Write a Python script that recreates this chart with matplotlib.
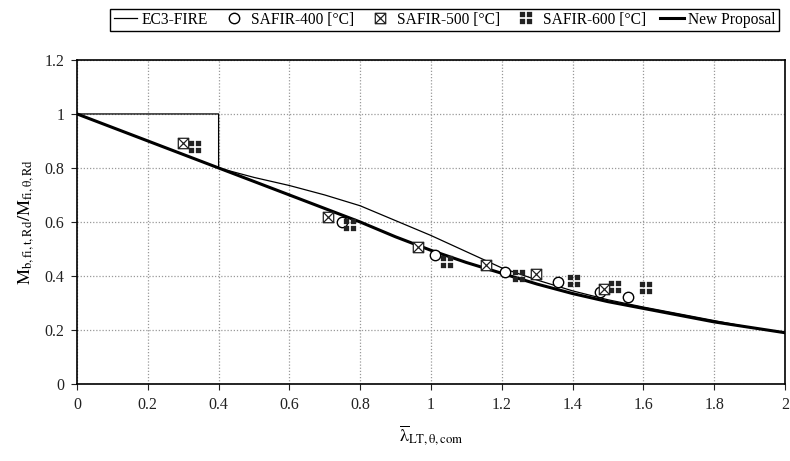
import matplotlib
matplotlib.use("Agg")
import matplotlib.pyplot as plt
from matplotlib.path import Path

plt.rcParams["font.family"] = ["Liberation Serif", "DejaVu Serif"]
plt.rcParams["mathtext.fontset"] = "stix"

# EC3-FIRE curve (thin line), incl. the plateau box up to 0.4
ec3_x = [0.0, 0.4, 0.4, 0.5, 0.6, 0.7, 0.8, 0.9, 1.0, 1.1, 1.2, 1.3, 1.4, 1.5, 1.6, 1.7, 1.8, 1.9, 2.0]
ec3_y = [1.0, 1.0, 0.8, 0.765, 0.735, 0.70, 0.66, 0.605, 0.55, 0.49, 0.43, 0.385, 0.345, 0.312, 0.285, 0.26, 0.235, 0.21, 0.19]

# New proposal (thick line)
new_x = [0.0, 0.2, 0.4, 0.5, 0.6, 0.7, 0.8, 0.9, 1.0, 1.1, 1.2, 1.3, 1.4, 1.5, 1.6, 1.7, 1.8, 1.9, 2.0]
new_y = [1.0, 0.9, 0.8, 0.75, 0.70, 0.65, 0.60, 0.545, 0.495, 0.45, 0.41, 0.37, 0.335, 0.305, 0.28, 0.255, 0.23, 0.21, 0.19]

# SAFIR results
s400_x = [0.748, 1.011, 1.209, 1.36, 1.477, 1.557]
s400_y = [0.601, 0.478, 0.416, 0.376, 0.342, 0.323]
s500_x = [0.30, 0.709, 0.964, 1.155, 1.296, 1.49]
s500_y = [0.893, 0.62, 0.508, 0.44, 0.407, 0.352]
s600_x = [0.333, 0.771, 1.044, 1.248, 1.405, 1.52, 1.607]
s600_y = [0.878, 0.589, 0.453, 0.40, 0.38, 0.36, 0.357]

# custom markers: square with cross, and four small filled squares
m500 = Path(
    [(-1, -1), (1, -1), (1, 1), (-1, 1), (-1, -1),
     (-1, -1), (1, 1), (-1, 1), (1, -1)],
    [Path.MOVETO, Path.LINETO, Path.LINETO, Path.LINETO, Path.CLOSEPOLY,
     Path.MOVETO, Path.LINETO, Path.MOVETO, Path.LINETO],
)
verts, codes = [], []
g = 0.12
for sx in (-1, 1):
    for sy in (-1, 1):
        x0, x1 = sorted((sx * g, sx * 1.0))
        y0, y1 = sorted((sy * g, sy * 1.0))
        verts += [(x0, y0), (x1, y0), (x1, y1), (x0, y1), (x0, y0)]
        codes += [Path.MOVETO, Path.LINETO, Path.LINETO, Path.LINETO, Path.CLOSEPOLY]
m600 = Path(verts, codes)

fig = plt.figure(figsize=(7.9, 4.61), dpi=100)
ax = fig.add_axes([0.0975, 0.167, 0.896, 0.703])

ax.plot(ec3_x, ec3_y, color="black", lw=0.9, label="EC3-FIRE", zorder=3)
ax.plot(s400_x, s400_y, ls="none", marker="o", ms=7.5, mfc="white", mec="black",
        mew=1.0, label="SAFIR-400 [°C]", zorder=4)
ax.plot(s500_x, s500_y, ls="none", marker=m500, ms=7.5, mfc="white", mec="#222222",
        mew=0.9, label="SAFIR-500 [°C]", zorder=4)
ax.plot(s600_x, s600_y, ls="none", marker=m600, ms=8, mfc="#222222", mec="#222222",
        mew=0.2, label="SAFIR-600 [°C]", zorder=4)
ax.plot(new_x, new_y, color="black", lw=2.2, label="New Proposal", zorder=3)

ax.set_xlim(0, 2)
ax.set_ylim(0, 1.2)
ax.set_xticks([0, 0.2, 0.4, 0.6, 0.8, 1, 1.2, 1.4, 1.6, 1.8, 2])
ax.set_xticklabels(["0", "0.2", "0.4", "0.6", "0.8", "1", "1.2", "1.4", "1.6", "1.8", "2"])
ax.set_yticks([0, 0.2, 0.4, 0.6, 0.8, 1, 1.2])
ax.set_yticklabels(["0", "0.2", "0.4", "0.6", "0.8", "1", "1.2"])
ax.tick_params(labelsize=11.5, direction="out", length=4, width=0.8, colors="#222222", pad=5)
ax.grid(True, color="#999999", ls=(0, (1, 1.5)), lw=0.9)
ax.set_axisbelow(True)
for s in ax.spines.values():
    s.set_linewidth(1.2)
    s.set_color("black")

ax.set_ylabel(r"$\mathrm{M_{b,fi,t,Rd}/M_{fi,\theta,Rd}}$", fontsize=13, labelpad=6)
ax.set_xlabel(r"$\overline{\mathrm{λ}}_{\mathrm{LT,\theta,com}}$", fontsize=13, labelpad=8)

fig.legend(loc="upper center", bbox_to_anchor=(0.563, 0.998), ncol=5, fontsize=11.2,
           frameon=True, fancybox=False, edgecolor="black", framealpha=1,
           handlelength=1.5, handletextpad=0.3, columnspacing=0.95,
           borderpad=0.2)

fig.savefig("out.png", dpi=100)
